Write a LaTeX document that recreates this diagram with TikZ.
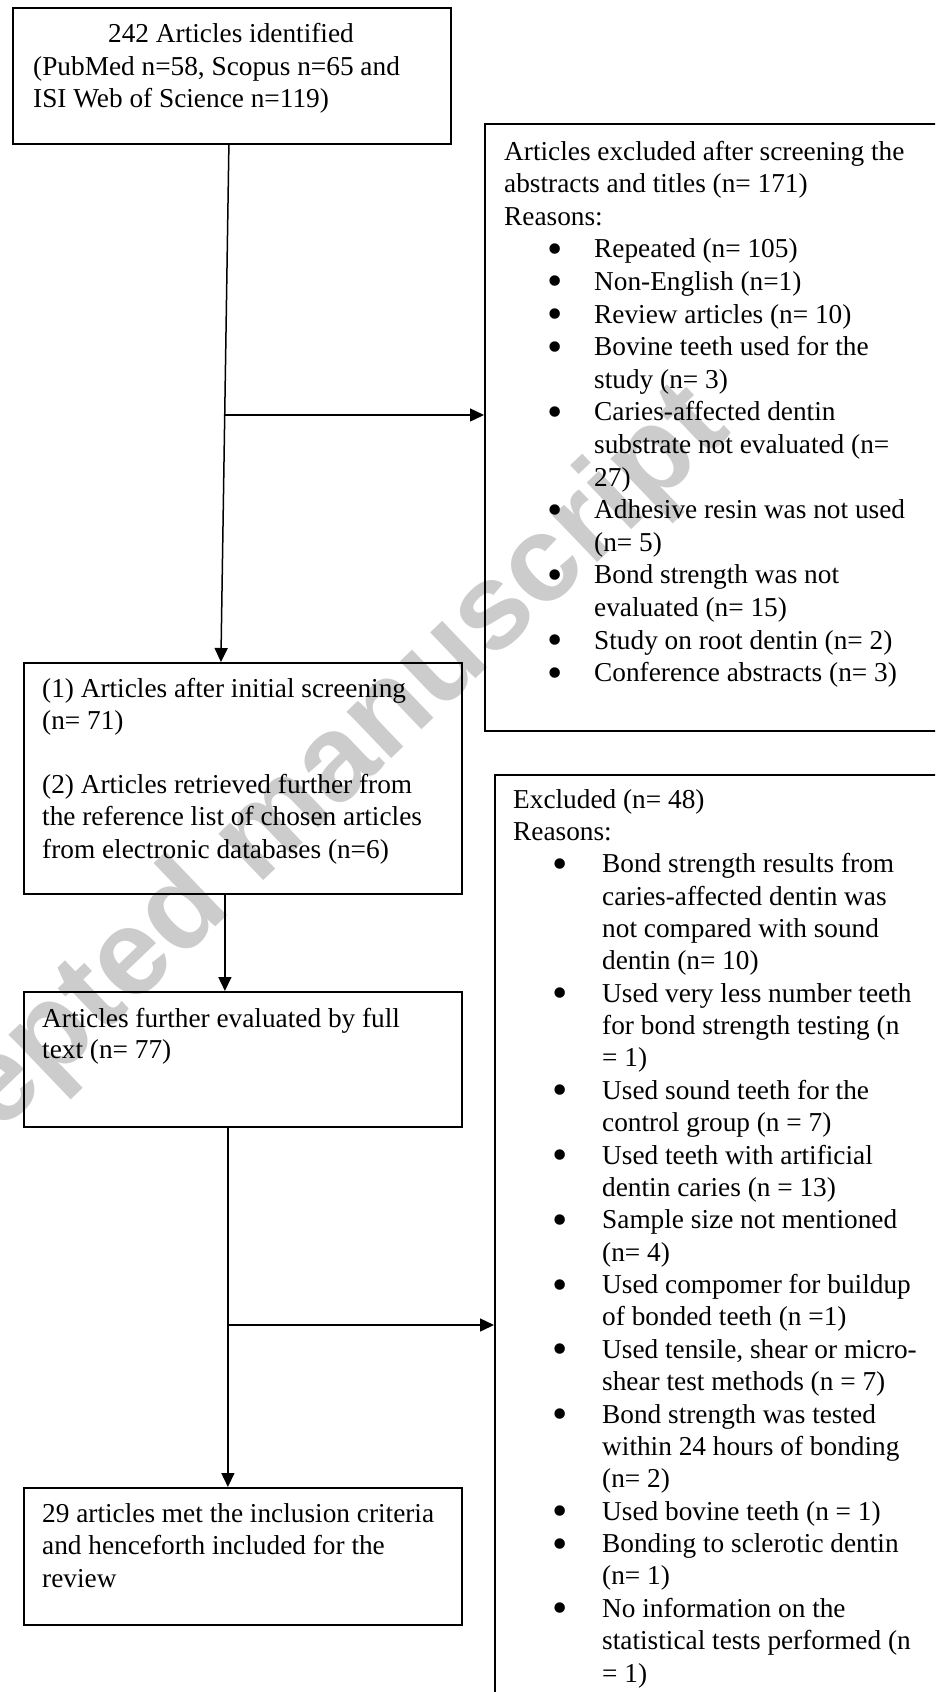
\documentclass[tikz,border=0pt]{standalone}
\usepackage{fontspec}
\setmainfont{Liberation Serif}
\newfontfamily\wmfont{Liberation Sans}
\usetikzlibrary{arrows.meta}
\newcommand{\bigdot}{\raisebox{-5.5pt}{\scalebox{1.6}{\textbullet}}}
\newcommand{\bu}{\hspace*{43pt}\makebox[47pt][l]{\bigdot}}
\newcommand{\bux}{\hspace*{39pt}\makebox[50pt][l]{\bigdot}}
\newcommand{\ind}{\hspace*{90pt}}
\newcommand{\indx}{\hspace*{89pt}}
\begin{document}
\begin{tikzpicture}[x=1pt,y=-1pt,
  box/.style={draw, line width=1.8pt, inner sep=0pt, anchor=north west},
  txt/.style={inner sep=0pt, anchor=base west, font=\fontsize{27.3}{32.4}\selectfont},
  arr/.style={line width=1.5pt, -{Triangle[length=14pt,width=13pt]}},
  wm/.style={inner sep=0pt, text=black!20, font=\wmfont\bfseries\fontsize{122}{122}\selectfont}]
\useasboundingbox (0,0) rectangle (935,1692);
\clip (0,0) rectangle (935,1692);
\fill[white] (0,0) rectangle (935,1692);
% watermark
\node[wm, rotate=43.7] (wmk) at (263,838) {Accepted manuscript};
% boxes
\node[box, minimum width=438pt, minimum height=136pt] (b1) at (12,7) {};
\node[box, minimum width=470pt, minimum height=607pt] (b2) at (484,123) {};
\node[box, minimum width=438pt, minimum height=231pt] (b3) at (23,662) {};
\node[box, minimum width=460pt, minimum height=940pt] (b4) at (494,774) {};
\node[box, minimum width=438pt, minimum height=135pt] (b5) at (23,991) {};
\node[box, minimum width=438pt, minimum height=137pt] (b6) at (23,1487) {};
% texts
\node[txt, anchor=base] (t1a) at (231,42) {242 Articles identified};
\node[txt] (t1b) at (33,75) {\parbox[t]{420pt}{\raggedright
(PubMed n=58, Scopus n=65 and\\
ISI Web of Science n=119)}};
\node[txt] (t2) at (504,160) {\parbox[t]{430pt}{\raggedright\baselineskip=32.6pt
Articles excluded after screening the\\
abstracts and titles (n= 171)\\
Reasons:\\
\bu Repeated (n= 105)\\
\bu Non-English (n=1)\\
\bu Review articles (n= 10)\\
\bu Bovine teeth used for the\\
\ind study (n= 3)\\
\bu Caries-affected dentin\\
\ind substrate not evaluated (n=\\
\ind 27)\\
\bu Adhesive resin was not used\\
\ind (n= 5)\\
\bu Bond strength was not\\
\ind evaluated (n= 15)\\
\bu Study on root dentin (n= 2)\\
\bu Conference abstracts (n= 3)}};
\node[txt] (t3) at (42,697) {\parbox[t]{420pt}{\raggedright\baselineskip=32.2pt
(1) Articles after initial screening\\
(n= 71)\\
\mbox{}\\
(2) Articles retrieved further from\\
the reference list of chosen articles\\
from electronic databases (n=6)}};
\node[txt] (t4) at (513,808) {\parbox[t]{430pt}{\raggedright\baselineskip=32.37pt
Excluded (n= 48)\\
Reasons:\\
\bux Bond strength results from\\
\indx caries-affected dentin was\\
\indx not compared with sound\\
\indx dentin (n= 10)\\
\bux Used very less number teeth\\
\indx for bond strength testing (n\\
\indx = 1)\\
\bux Used sound teeth for the\\
\indx control group (n = 7)\\
\bux Used teeth with artificial\\
\indx dentin caries (n = 13)\\
\bux Sample size not mentioned\\
\indx (n= 4)\\
\bux Used compomer for buildup\\
\indx of bonded teeth (n =1)\\
\bux Used tensile, shear or micro-\\
\indx shear test methods (n = 7)\\
\bux Bond strength was tested\\
\indx within 24 hours of bonding\\
\indx (n= 2)\\
\bux Used bovine teeth (n = 1)\\
\bux Bonding to sclerotic dentin\\
\indx (n= 1)\\
\bux No information on the\\
\indx statistical tests performed (n\\
\indx = 1)}};
\node[txt] (t5) at (42,1027) {\parbox[t]{420pt}{\raggedright\baselineskip=31pt
Articles further evaluated by full\\
text (n= 77)}};
\node[txt] (t6) at (42,1522) {\parbox[t]{420pt}{\raggedright\baselineskip=32.5pt
29 articles met the inclusion criteria\\
and henceforth included for the\\
review}};
% connectors
\coordinate (j1) at (225,415);
\coordinate (j2) at (227,1325);
\draw[arr] ([xshift=-3pt]b1.south) -- ([xshift=-22pt]b3.north);
\draw[arr] (j1) -- (j1 -| b2.west);
\draw[arr] ([xshift=-18pt]b3.south) -- ([xshift=-18pt]b5.north);
\draw[arr] ([xshift=-15pt]b5.south) -- ([xshift=-15pt]b6.north);
\draw[arr] (j2) -- (j2 -| b4.west);
\end{tikzpicture}
\end{document}
